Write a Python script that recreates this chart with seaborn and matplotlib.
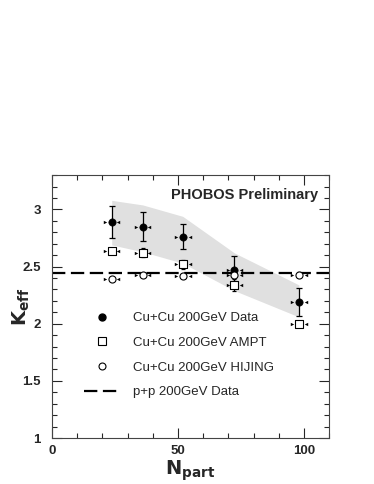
import numpy as np
import pandas as pd
import seaborn as sns
import matplotlib.pyplot as plt
from matplotlib.lines import Line2D

# ============================== DATA ==============================

npart = [23.7, 36.0, 51.9, 72.4, 98.0]
npart_err = [2.7, 2.7, 2.7, 2.7, 2.7]

keff_data = [2.89, 2.85, 2.76, 2.47, 2.19]
keff_data_err = [0.14, 0.13, 0.11, 0.12, 0.12]
band_upper = [3.08, 3.04, 2.94, 2.62, 2.34]
band_lower = [2.69, 2.63, 2.53, 2.29, 2.06]

keff_ampt = [2.64, 2.62, 2.52, 2.34, 2.00]
keff_ampt_err = [0.0, 0.04, 0.04, 0.05, 0.0]

keff_hijing = [2.39, 2.43, 2.42, 2.43, 2.43]

keff_pp = 2.44

labels = ["Cu+Cu 200GeV Data", "Cu+Cu 200GeV AMPT", "Cu+Cu 200GeV HIJING", "p+p 200GeV Data"]

# ============================== FRAME ==============================

df = pd.DataFrame({"Npart": npart, "Data": keff_data, "AMPT": keff_ampt, "HIJING": keff_hijing})

sns.set_theme(style="ticks")
plt.rcParams['font.family'] = ['Liberation Sans', 'DejaVu Sans']

fig = plt.figure(figsize=(3.74, 4.84), dpi=100)
ax = fig.add_axes([0.139, 0.095, 0.741, 0.543])

# systematic band
ax.fill_between(npart, band_lower, band_upper, color="#e0e0e0", lw=0, zorder=0)

# p+p reference
ax.axhline(keff_pp, color="black", lw=1.6, dashes=(6, 2.5), zorder=1)

# error bars
ax.errorbar(npart, keff_data, yerr=keff_data_err, fmt="none", ecolor="black", elinewidth=0.9, capsize=2, capthick=0.9, zorder=2)
ax.errorbar(npart, keff_ampt, yerr=keff_ampt_err, fmt="none", ecolor="black", elinewidth=0.9, capsize=1.5, capthick=0.9, zorder=2)

# horizontal (Npart) uncertainty markers
for series in (keff_data, keff_ampt, keff_hijing):
    xl = np.array(npart) - np.array(npart_err)
    xr = np.array(npart) + np.array(npart_err)
    ax.scatter(xl, series, marker=">", s=6, color="black", lw=0, zorder=3)
    ax.scatter(xr, series, marker="<", s=6, color="black", lw=0, zorder=3)

sns.scatterplot(data=df, x="Npart", y="Data", marker="o", s=28, color="black", edgecolor="black", ax=ax, zorder=4)
sns.scatterplot(data=df, x="Npart", y="AMPT", marker="s", s=30, facecolor="white", edgecolor="black", linewidth=0.8, ax=ax, zorder=4)
sns.scatterplot(data=df, x="Npart", y="HIJING", marker="o", s=26, facecolor="white", edgecolor="black", linewidth=0.8, ax=ax, zorder=4)

# ============================== AXES ==============================

ax.set_xlim(0, 110)
ax.set_ylim(1, 3.3)
ax.set_xticks([0, 50, 100])
ax.set_xticks(np.arange(0, 111, 10), minor=True)
ax.set_yticks([1, 1.5, 2, 2.5, 3])
ax.set_yticklabels(["1", "1.5", "2", "2.5", "3"])
ax.set_yticks(np.arange(1, 3.31, 0.1), minor=True)
ax.tick_params(which="both", direction="in", top=True, right=True, width=0.8, labelsize=9.5)
ax.tick_params(axis="y", pad=8)
ax.tick_params(axis="x", pad=5)
ax.tick_params(which="major", length=7)
ax.tick_params(which="minor", length=3.5)
for lab in ax.get_xticklabels() + ax.get_yticklabels():
    lab.set_fontweight("bold")
for s in ax.spines.values():
    s.set_linewidth(0.8)
    s.set_color("#444444")

ax.set_xlabel("")
ax.set_ylabel("")
fig.text(0.509, 0.027, r"$\mathbf{N_{part}}$", fontsize=14, ha="center", va="center")
fig.text(0.058, 0.367, r"$\mathbf{K_{eff}}$", fontsize=14, ha="center", va="center", rotation=90)

ax.text(0.96, 0.925, "PHOBOS Preliminary", transform=ax.transAxes, ha="right", va="center", fontsize=10.5, fontweight="bold")

handles = [
    Line2D([], [], marker="o", ls="none", color="black", markersize=5),
    Line2D([], [], marker="s", ls="none", mfc="white", mec="black", mew=0.8, markersize=5.5),
    Line2D([], [], marker="o", ls="none", mfc="white", mec="black", mew=0.8, markersize=5),
    Line2D([], [], color="black", lw=1.6, dashes=(6, 2.5)),
]
ax.legend(handles, labels, loc="upper left", bbox_to_anchor=(0.096, 0.50), frameon=False, fontsize=9.5, handlelength=2.8, handletextpad=0.9, labelspacing=0.95, borderaxespad=0)

fig.savefig("out.png", dpi=100)
